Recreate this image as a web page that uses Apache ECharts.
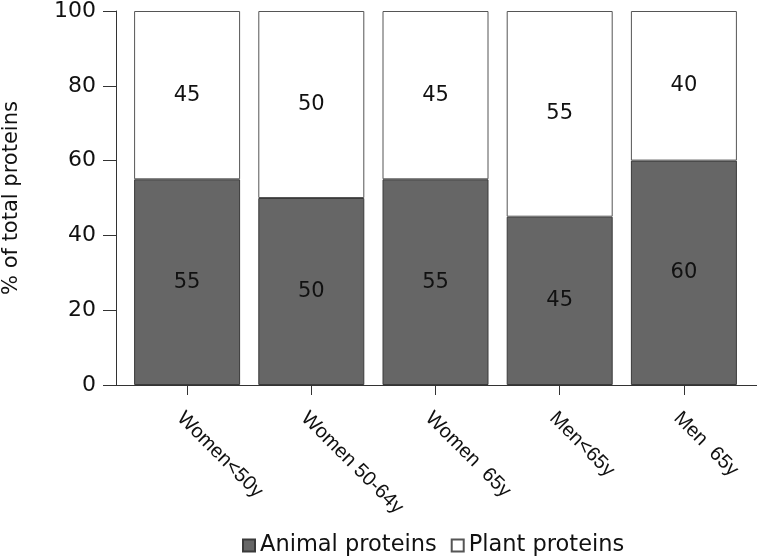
<!DOCTYPE html>
<html>
<head>
<meta charset="utf-8">
<script src="https://cdn.jsdelivr.net/npm/echarts@6/dist/echarts.min.js"></script>
<style>
html,body{margin:0;padding:0;background:#fff;}
#c{width:757px;height:559px;}
</style>
</head>
<body>
<div id="c"></div>
<script>
var categories = ['Women<50y', 'Women 50-64y', 'Women  65y', 'Men<65y', 'Men  65y'];
var animalProteins = [55, 50, 55, 45, 60];
var plantProteins = [45, 50, 45, 55, 40];
var yTicks = [0, 20, 40, 60, 80, 100];
var seriesNames = ['Animal proteins', 'Plant proteins'];

var FONT = "'DejaVu Sans', 'Liberation Sans', Arial, sans-serif";
var FONT_X = "'Liberation Sans', Arial, sans-serif";
var chart = echarts.init(document.getElementById('c'), null, {renderer: 'canvas'});

var option = {
  backgroundColor: '#ffffff',
  animation: false,
  grid: {left: 125, right: 11, top: 11, bottom: 174, containLabel: false, outerBoundsMode: 'none'},
  legend: {
    data: seriesNames,
    left: 242,
    top: 534,
    padding: 0,
    icon: 'rect',
    itemWidth: 12,
    itemHeight: 12,
    itemGap: 14,
    textStyle: {fontFamily: FONT, fontSize: 22.5, color: '#111'}
  },
  xAxis: {
    type: 'category',
    data: categories,
    axisLine: {show: true, lineStyle: {color: '#333', width: 1}},
    axisTick: {show: true, alignWithLabel: true, length: 10, lineStyle: {color: '#333'}},
    axisLabel: {rotate: -45, margin: 23, verticalAlign: 'top', fontFamily: FONT_X, fontSize: 20, color: '#111', interval: 0}
  },
  yAxis: {
    type: 'value',
    min: yTicks[0],
    max: yTicks[yTicks.length - 1],
    interval: yTicks[1] - yTicks[0],
    offset: 9,
    name: '% of total proteins',
    nameLocation: 'middle',
    nameGap: 94,
    nameTextStyle: {fontFamily: FONT, fontSize: 21, color: '#111'},
    axisLine: {show: true, lineStyle: {color: '#333', width: 1}},
    axisTick: {show: true, length: 13, lineStyle: {color: '#333'}},
    axisLabel: {margin: 20, fontFamily: FONT, fontSize: 22, color: '#111'},
    splitLine: {show: false}
  },
  series: [
    {
      name: seriesNames[0],
      type: 'bar',
      stack: 'total',
      barWidth: 106,
      data: animalProteins,
      itemStyle: {color: '#666666', borderColor: '#3a3a3a', borderWidth: 1},
      label: {show: true, position: 'inside', fontFamily: FONT, fontSize: 21, color: '#111'}
    },
    {
      name: seriesNames[1],
      type: 'bar',
      stack: 'total',
      barWidth: 106,
      data: plantProteins,
      itemStyle: {color: '#ffffff', borderColor: '#555', borderWidth: 1},
      label: {show: true, position: 'inside', fontFamily: FONT, fontSize: 21, color: '#111'}
    }
  ]
};
chart.setOption(option);

// extend the x-axis baseline beyond the category band, as in the reference
var p0 = chart.convertToPixel({xAxisIndex: 0, yAxisIndex: 0}, [0, 0]);
var y0 = Math.round(p0[1]) + 0.5;
chart.setOption({
  graphic: [{
    type: 'line',
    shape: {x1: 103, y1: y0, x2: 757, y2: y0},
    style: {stroke: '#333', lineWidth: 1},
    silent: true,
    z: 10
  }]
});
</script>
</body>
</html>
